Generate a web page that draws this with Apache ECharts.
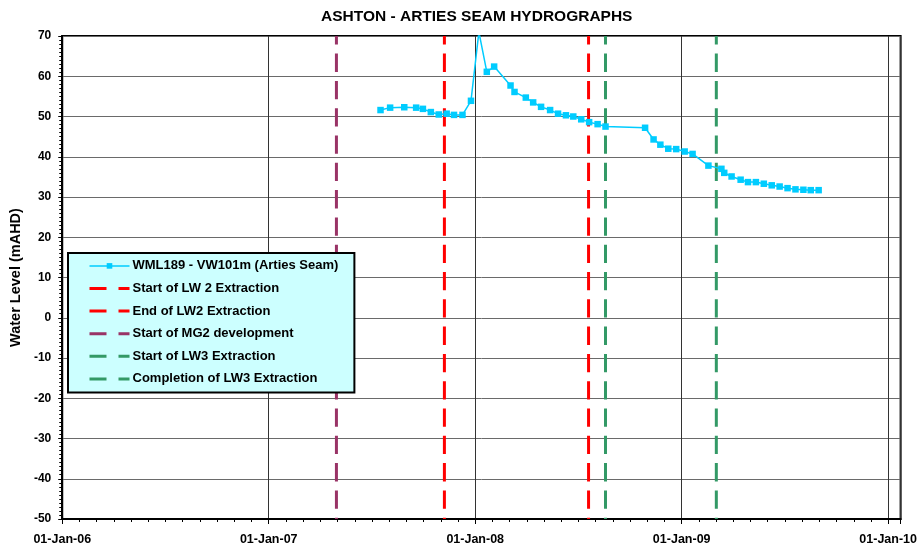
<!DOCTYPE html>
<html>
<head>
<meta charset="utf-8">
<script src="https://cdn.jsdelivr.net/npm/echarts@6/dist/echarts.min.js"></script>
<style>
html,body{margin:0;padding:0;background:#fff;}
#chart{width:920px;height:548px;}
</style>
</head>
<body>
<div id="chart"></div>
<script>
// ---- data ----
const chartTitle = 'ASHTON - ARTIES SEAM HYDROGRAPHS';
const yAxisTitle = 'Water Level (mAHD)';
const seriesName = 'WML189 - VW101m (Arties Seam)';
const sampleDates = [
  '2007-07-18','2007-08-04','2007-08-29','2007-09-19','2007-10-01','2007-10-15','2007-10-29',
  '2007-11-12','2007-11-25','2007-12-10','2007-12-25','2008-01-08','2008-01-22','2008-02-04',
  '2008-03-04','2008-03-11','2008-03-31','2008-04-13','2008-04-27','2008-05-13','2008-05-27',
  '2008-06-10','2008-06-23','2008-07-07','2008-07-21','2008-08-05','2008-08-19','2008-10-28',
  '2008-11-12','2008-11-24','2008-12-08','2008-12-22','2009-01-06','2009-01-20','2009-02-17',
  '2009-03-12','2009-03-17','2009-03-30','2009-04-15','2009-04-28','2009-05-12','2009-05-26',
  '2009-06-09','2009-06-23','2009-07-07','2009-07-21','2009-08-04','2009-08-17','2009-08-31'
];
const waterLevels = [
  51.6, 52.2, 52.3, 52.2, 51.9, 51.1, 50.5,
  50.7, 50.4, 50.4, 53.9, 71.0, 61.1, 62.4,
  57.7, 56.1, 54.7, 53.5, 52.4, 51.6, 50.7,
  50.3, 50.0, 49.3, 48.6, 48.1, 47.5, 47.2,
  44.3, 43.0, 42.0, 41.9, 41.3, 40.7, 37.8,
  37.0, 36.0, 35.1, 34.3, 33.7, 33.7, 33.3,
  32.9, 32.6, 32.2, 31.9, 31.8, 31.7, 31.7
];
const eventNames = [
  'Start of LW 2 Extraction',
  'End of LW2 Extraction',
  'Start of MG2 development',
  'Start of LW3 Extraction',
  'Completion of LW3 Extraction'
];
const eventDates = ['2007-11-08','2008-07-20','2007-05-01','2008-08-19','2009-03-03'];
const xAxisStart = '2006-01-01';
const xAxisEnd = '2010-01-23';
const yMin = -50, yMax = 70, yStep = 10;

// ---- styles ----
const eventColors = ['#FF0000','#FF0000','#993366','#339966','#339966'];
const FONT = '"Liberation Sans", Arial, sans-serif';
const DAY = 86400000;
const MONTHS = ['Jan','Feb','Mar','Apr','May','Jun','Jul','Aug','Sep','Oct','Nov','Dec'];
const ts = s => { const p = s.split('-').map(Number); return Date.UTC(p[0], p[1]-1, p[2]); };
const x0 = ts(xAxisStart);
const x1 = ts(xAxisEnd);
const yearInterval = 365.25 * DAY;

function fmt(v) {
  if (v >= x1 - DAY) return '';
  const d = new Date(x0 + Math.floor((v - x0) / DAY + 0.3) * DAY);
  const dd = String(d.getUTCDate()).padStart(2,'0');
  const yy = String(d.getUTCFullYear() % 100).padStart(2,'0');
  return dd + '-' + MONTHS[d.getUTCMonth()] + '-' + yy;
}

const mainData = sampleDates.map((d, i) => [ts(d), waterLevels[i]]);

const series = [];
eventNames.forEach((n, i) => {
  series.push({
    name: n,
    type: 'line',
    data: [[ts(eventDates[i]), yMin], [ts(eventDates[i]), yMax]],
    symbol: 'none',
    silent: true,
    z: 2,
    lineStyle: { color: eventColors[i], width: 3, type: [18.3, 9], dashOffset: 17 },
    itemStyle: { color: eventColors[i] }
  });
});
series.push({
  name: seriesName,
  type: 'line',
  data: mainData,
  symbol: 'rect',
  symbolSize: 6.5,
  z: 5,
  lineStyle: { color: '#00CCFF', width: 1.5 },
  itemStyle: { color: '#00CCFF' }
});

const legendData = [{ name: seriesName, lineStyle: { width: 1.5 } }].concat(eventNames.map(n => ({
  name: n,
  itemStyle: { color: 'rgba(0,0,0,0)', opacity: 0, borderWidth: 0 },
  lineStyle: { type: [17, 12], dashOffset: 0, width: 3 }
})));

const chart = echarts.init(document.getElementById('chart'), null, { renderer: 'canvas' });
chart.setOption({
  animation: false,
  backgroundColor: '#fff',
  textStyle: { fontFamily: FONT },
  title: {
    text: chartTitle,
    left: 316,
    top: 4,
    textStyle: { fontFamily: FONT, fontSize: 15.5, fontWeight: 'bold', color: '#000' }
  },
  grid: {
    left: 61, right: 18.3, top: 36, bottom: 29,
    show: true, borderColor: '#000', borderWidth: 2, backgroundColor: 'transparent'
  },
  legend: {
    orient: 'vertical',
    left: 68,
    top: 253,
    itemWidth: 40,
    itemHeight: 7,
    itemGap: 9.6,
    padding: [6.4, 16, 7.2, 20],
    backgroundColor: '#CCFFFF',
    borderColor: '#000',
    borderWidth: 2,
    borderRadius: 0,
    selectedMode: false,
    data: legendData,
    textStyle: { fontFamily: FONT, fontSize: 13, lineHeight: 12, fontWeight: 'bold', color: '#000', padding: [0,0,0,-2] }
  },
  xAxis: {
    type: 'value',
    min: x0,
    max: x1,
    interval: yearInterval,
    axisLine: { show: true, onZero: false, lineStyle: { color: '#000', width: 2 } },
    axisTick: { show: true, length: 5, lineStyle: { color: '#000', width: 1 } },
    minorTick: { show: true, splitNumber: 12, length: 3, lineStyle: { color: '#000', width: 1 } },
    axisLabel: { formatter: fmt, fontFamily: FONT, fontSize: 12.5, fontWeight: 'bold', color: '#000', margin: 14, showMaxLabel: false },
    splitLine: { show: true, lineStyle: { color: '#333', width: 1 } }
  },
  yAxis: {
    type: 'value',
    min: yMin,
    max: yMax,
    interval: yStep,
    name: yAxisTitle,
    nameLocation: 'middle',
    nameRotate: 90,
    nameGap: 34,
    nameTextStyle: { fontFamily: FONT, fontSize: 14.5, fontWeight: 'bold', color: '#000' },
    axisLine: { show: true, onZero: false, lineStyle: { color: '#000', width: 2 } },
    axisTick: { show: true, length: 4, lineStyle: { color: '#000', width: 1 } },
    minorTick: { show: true, splitNumber: 10, length: 3, lineStyle: { color: '#000', width: 1 } },
    axisLabel: { fontFamily: FONT, fontSize: 12, fontWeight: 'bold', color: '#000', margin: 11 },
    splitLine: { show: true, lineStyle: { color: '#6a6a6a', width: 1 } }
  },
  series: series
});
</script>
</body>
</html>
